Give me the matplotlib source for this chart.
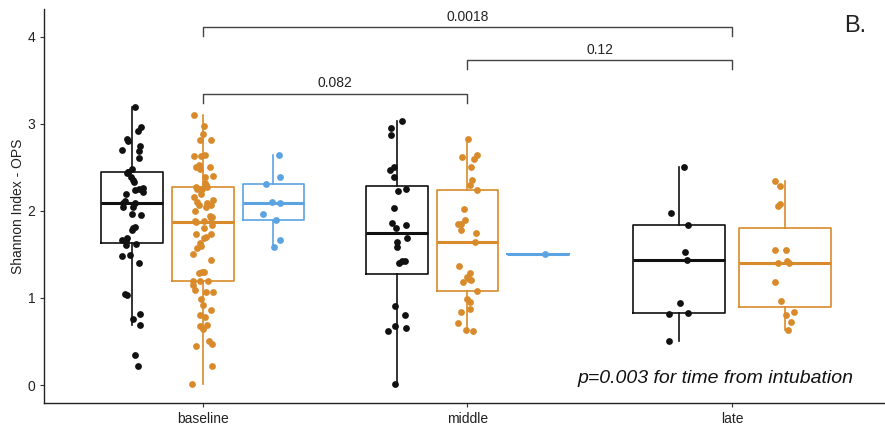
import numpy as np
import matplotlib
matplotlib.use('Agg')
import matplotlib.pyplot as plt

plt.rcParams['font.family'] = ['Liberation Sans', 'DejaVu Sans']

times = ['baseline', 'middle', 'late']

# Shannon index per sample, split by time point and group
baseline_black = [3.19, 2.97, 2.92, 2.83, 2.80, 2.75, 2.70, 2.69, 2.61, 2.48,
                  2.45, 2.45, 2.44, 2.39, 2.36, 2.33, 2.26, 2.25, 2.24, 2.22,
                  2.20, 2.11, 2.09, 2.09, 2.05, 2.04, 1.97, 1.95, 1.81, 1.80,
                  1.78, 1.69, 1.67, 1.66, 1.62, 1.61, 1.49, 1.48, 1.40, 1.05,
                  1.03, 0.82, 0.755, 0.69, 0.34, 0.22]
baseline_orange = [3.10, 2.98, 2.88, 2.82, 2.82, 2.64, 2.63, 2.63, 2.53, 2.51,
                   2.50, 2.48, 2.40, 2.39, 2.32, 2.30, 2.28, 2.27, 2.25, 2.25,
                   2.20, 2.16, 2.13, 2.10, 2.09, 2.07, 2.07, 2.04, 2.00, 1.94,
                   1.93, 1.92, 1.88, 1.88, 1.87, 1.84, 1.80, 1.74, 1.74, 1.70,
                   1.69, 1.63, 1.60, 1.57, 1.51, 1.44, 1.30, 1.30, 1.29, 1.20,
                   1.19, 1.19, 1.15, 1.09, 1.07, 1.07, 0.99, 0.92, 0.86, 0.80,
                   0.785, 0.69, 0.68, 0.64, 0.51, 0.47, 0.45, 0.22, 0.01]
baseline_blue = [2.64, 2.39, 2.31, 2.10, 2.09, 1.96, 1.90, 1.67, 1.59]

middle_black = [3.03, 2.95, 2.87, 2.51, 2.47, 2.39, 2.25, 2.23, 2.03, 1.86,
                1.84, 1.80, 1.69, 1.64, 1.59, 1.43, 1.43, 1.40, 0.91, 0.80,
                0.68, 0.65, 0.62, 0.01]
middle_orange = [2.83, 2.64, 2.62, 2.60, 2.51, 2.36, 2.30, 2.24, 2.02, 1.90,
                 1.85, 1.85, 1.78, 1.75, 1.64, 1.37, 1.29, 1.24, 1.22, 1.21,
                 1.18, 1.08, 0.99, 0.95, 0.87, 0.84, 0.71, 0.63, 0.62]
middle_blue = [1.51]

late_black = [2.51, 1.98, 1.84, 1.53, 1.44, 0.94, 0.83, 0.82, 0.51]
late_orange = [2.34, 2.29, 2.08, 2.06, 1.55, 1.55, 1.42, 1.40, 1.40, 1.18,
               0.96, 0.835, 0.80, 0.72, 0.63]

# pairwise comparisons between time points
comparisons = [(1, 2, '0.082'), (1, 3, '0.0018'), (2, 3, '0.12')]
bracket_y = {'0.082': 3.345, '0.0018': 4.11, '0.12': 3.73}

black = '#111111'
orange = '#D98B2B'
blue = '#5BA3E2'

groups = [
    # (x center, data, colour, box width)
    (1 - 0.2667, baseline_black, black, 0.234),
    (1, baseline_orange, orange, 0.234),
    (1 + 0.2667, baseline_blue, blue, 0.234),
    (2 - 0.2667, middle_black, black, 0.234),
    (2, middle_orange, orange, 0.234),
    (2 + 0.2667, middle_blue, blue, 0.234),
    (3 - 0.2, late_black, black, 0.35),
    (3 + 0.2, late_orange, orange, 0.35),
]

fig = plt.figure(figsize=(8.85, 4.28), dpi=100)
ax = fig.add_axes([0.05, 0.0591, 0.9564, 0.9199])

rng = np.random.default_rng(7)
for x, vals, col, w in groups:
    ax.boxplot(vals, positions=[x], widths=w, whis=1.5, showfliers=False,
               showcaps=False, manage_ticks=False,
               boxprops=dict(color=col, linewidth=1.2),
               whiskerprops=dict(color=col, linewidth=1.2),
               medianprops=dict(color=col, linewidth=2.2))
    jitter = rng.uniform(-0.04, 0.04, len(vals))
    ax.scatter(x + jitter, vals, s=24, color=col, zorder=3, linewidths=0)

for a, b, label in comparisons:
    y = bracket_y[label]
    ax.plot([a, a, b, b], [y - 0.1, y, y, y - 0.1], color='#444444', lw=1.0)
    ax.text((a + b) / 2, y + 0.04, label, ha='center', va='bottom',
            fontsize=10, color='#222222')

ax.text(3.465, 4.13, 'B.', fontsize=17, ha='center', va='center', color='#222222')
ax.text(2.936, 0.08, 'p=0.003 for time from intubation', fontsize=14,
        style='italic', ha='center', va='center', color='#111111')

ax.set_xlim(0.4, 3.6)
ax.set_ylim(-0.203, 4.32)
ax.set_xticks([1, 2, 3])
ax.set_xticklabels(times)
ax.set_yticks([0, 1, 2, 3, 4])
ax.set_ylabel('Shannon Index - OPS', fontsize=10, color='#222222', labelpad=2)
ax.tick_params(labelsize=10, length=3, width=0.8, colors='#333333',
               labelcolor='#222222')
for s in ['top', 'right']:
    ax.spines[s].set_visible(False)
for s in ['left', 'bottom']:
    ax.spines[s].set_color('#222222')
    ax.spines[s].set_linewidth(1.0)

fig.savefig('out.png', dpi=100)
